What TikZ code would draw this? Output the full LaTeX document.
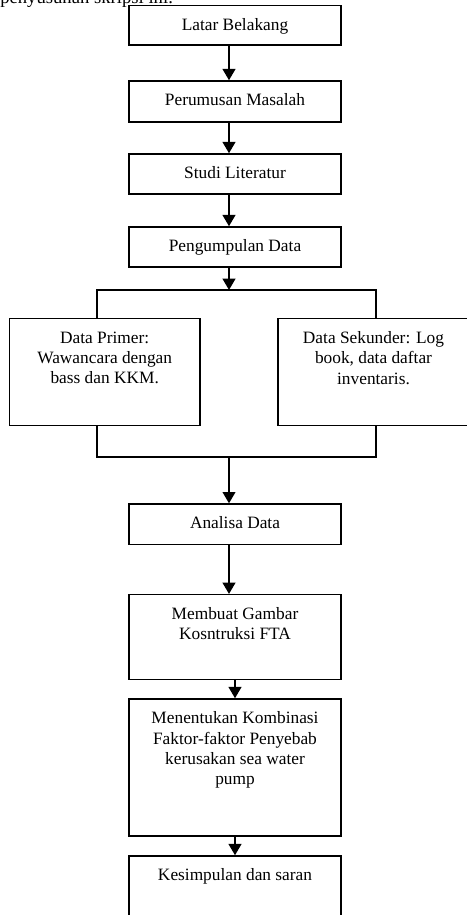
\documentclass[tikz,border=0pt]{standalone}
\usepackage{fontspec}
\setmainfont{Liberation Serif}
\usetikzlibrary{positioning,arrows.meta}

\begin{document}
\begin{tikzpicture}[x=0.75pt, y=-0.75pt,
    box/.style={draw, line width=1.1pt, minimum width=159pt, inner sep=0pt},
    txt/.style={align=center, inner sep=0pt, font=\fontsize{13}{15.2}\selectfont},
    link/.style={line width=1.1pt},
    arr/.style={line width=1.5pt, -{Triangle[length=8.5pt,width=9.5pt]}}]
        \useasboundingbox (0,0) rectangle (467,915);
        \node[txt, anchor=base west, font=\fontsize{14}{16}\selectfont] (intro) at (0,3.5) {penyusunan skripsi ini.};
        % main column
        \node[box, minimum height=29.5pt] (latar) at (235,25.4) {};
        \node[box, minimum height=30.75pt] (rumusan) at (235,101.5) {};
        \node[box, minimum height=30pt] (studi) at (235,174) {};
        \node[box, minimum height=30pt] (pengumpulan) at (235,247) {};
        \node[box, minimum width=143pt, minimum height=80.25pt] (primer) at (104.7,372.2) {};
        \node[box, minimum width=143.25pt, minimum height=80.25pt] (sekunder) at (373.5,372.2) {};
        \node[box, minimum height=30.2pt] (analisa) at (235,524.2) {};
        \node[box, minimum height=63.45pt] (membuat) at (235,637) {};
        \node[box, minimum height=102.75pt] (menentukan) at (235,767.5) {};
        \node[box, minimum height=63.45pt] (kesimpulan) at (235,898.3) {};
        % texts
        \node[txt, below=10pt of latar.north] (latar-t) {Latar Belakang};
        \node[txt, below=10pt of rumusan.north] (rumusan-t) {Perumusan Masalah};
        \node[txt, below=10pt of studi.north] (studi-t) {Studi Literatur};
        \node[txt, below=10pt of pengumpulan.north] (pengumpulan-t) {Pengumpulan Data};
        \node[txt, below=10pt of primer.north] (primer-t) {Data Primer:\\ Wawancara dengan\\ bass dan KKM.};
        \node[txt, below=10pt of sekunder.north] (sekunder-t) {Data Sekunder: Log\\ book, data daftar\\ inventaris.};
        \node[txt, below=10pt of analisa.north] (analisa-t) {Analisa Data};
        \node[txt, below=10pt of membuat.north] (membuat-t) {Membuat Gambar\\ Kosntruksi FTA};
        \node[txt, below=10pt of menentukan.north] (menentukan-t) {Menentukan Kombinasi\\ Faktor-faktor Penyebab\\ kerusakan sea water\\ pump};
        \node[txt, below=10pt of kesimpulan.north] (kesimpulan-t) {Kesimpulan dan saran};
        % split and join
        \coordinate (splitL) at (97,290); \coordinate (splitC) at (229,290); \coordinate (splitR) at (376,290);
        \coordinate (joinL) at (97,457); \coordinate (joinC) at (229,457); \coordinate (joinR) at (376,457);
        \draw[arr] ([xshift=-4.5pt]latar.south) -- ([xshift=-4.5pt]rumusan.north);
        \draw[arr] ([xshift=-4.5pt]rumusan.south) -- ([xshift=-4.5pt]studi.north);
        \draw[arr] ([xshift=-4.5pt]studi.south) -- ([xshift=-4.5pt]pengumpulan.north);
        \draw[arr] (pengumpulan.south -| splitC) -- (splitC);
        \draw[link] (primer.north -| splitL) -- (splitL) -- (splitR) -- (sekunder.north -| splitR);
        \draw[link] (primer.south -| joinL) -- (joinL) -- (joinR) -- (sekunder.south -| joinR);
        \draw[arr] (joinC) -- (analisa.north -| joinC);
        \draw[arr] ([xshift=-4.5pt]analisa.south) -- ([xshift=-4.5pt]membuat.north);
        \draw[arr] (membuat) -- (menentukan);
        \draw[arr] (menentukan) -- (kesimpulan);
    \end{tikzpicture}
\end{document}
